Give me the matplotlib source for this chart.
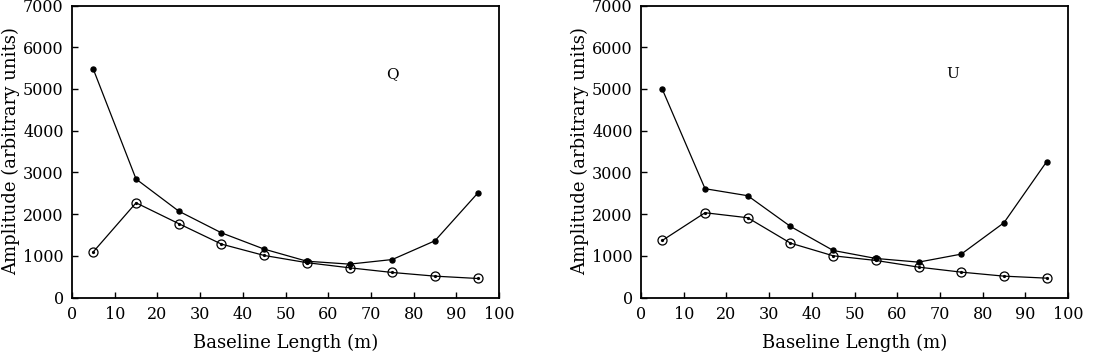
import matplotlib
matplotlib.use("Agg")
import matplotlib.pyplot as plt

baseline = [5, 15, 25, 35, 45, 55, 65, 75, 85, 95]
q_filled = [5470, 2840, 2070, 1550, 1160, 870, 800, 910, 1360, 2500]
q_open = [1096, 2270, 1770, 1280, 1008, 835, 712, 600, 512, 456]
u_filled = [4990, 2608, 2440, 1704, 1128, 936, 848, 1040, 1792, 3256]
u_open = [1368, 2032, 1912, 1304, 1000, 888, 728, 608, 512, 464]
panel_labels = ["Q", "U"]
xticks = list(range(0, 101, 10))
yticks = list(range(0, 7001, 1000))

plt.rcParams['font.family'] = ['DejaVu Serif']
fig = plt.figure(figsize=(10.94, 3.55), dpi=100)
ax1 = fig.add_axes([72/1094, 57.5/355, 427/1094, 292/355])
ax2 = fig.add_axes([641/1094, 57.5/355, 427/1094, 292/355])

for ax, filled, opn, lab, lx in [(ax1, q_filled, q_open, panel_labels[0], 75),
                                 (ax2, u_filled, u_open, panel_labels[1], 73)]:
    ax.plot(baseline, filled, color='black', lw=0.9, marker='o', ms=3.6,
            mfc='black', mec='black')
    ax.plot(baseline, opn, color='black', lw=0.9, marker='o', ms=6.5,
            mfc='none', mec='black', mew=0.9)
    ax.plot(baseline, opn, ls='none', marker='o', ms=1.3, color='black')
    ax.set_xlim(0, 100)
    ax.set_ylim(0, 7000)
    ax.set_xticks(xticks)
    ax.set_yticks(yticks)
    ax.tick_params(direction='in', length=4, width=1.0, labelsize=11.5,
                   top=False, right=False, pad=6)
    for s in ax.spines.values():
        s.set_linewidth(1.3)
    ax.set_xlabel('Baseline Length (m)', fontsize=13, labelpad=8)
    ax.set_ylabel('Amplitude (arbitrary units)', fontsize=13, labelpad=2)
    ax.text(lx, 5360, lab, fontsize=11, ha='center', va='center')

fig.savefig('out.png', dpi=100)
